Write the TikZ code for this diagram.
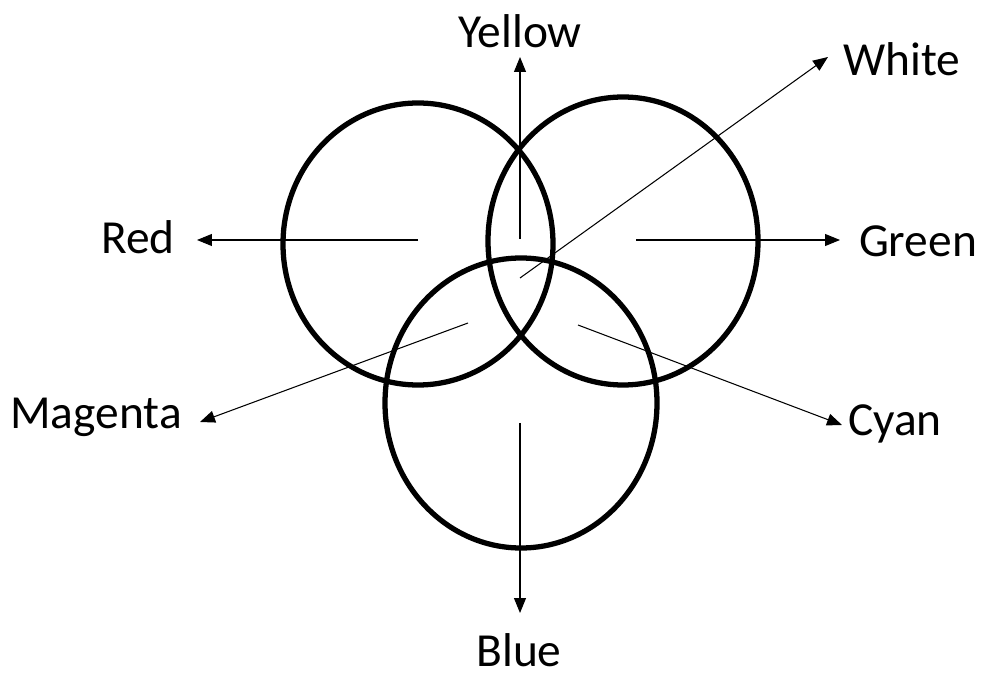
\documentclass[tikz,border=0pt]{standalone}
\usepackage{fontspec}
\setmainfont{Carlito}
\usetikzlibrary{arrows.meta, positioning}

\begin{document}
\begin{tikzpicture}[
    x=0.02cm, y=-0.02cm,
    ring/.style={draw=black, line width=3pt},
    arrow/.style={line width=0.6pt, -{Triangle[length=0.3cm, width=0.24cm]}},
    colourlabel/.style={font=\fontsize{27}{32}\selectfont, text=black, inner sep=0pt},
]
    \useasboundingbox (0,0) rectangle (984,675);

    % Three circles
    \draw [ring] (418,244) ellipse [x radius=135, y radius=141];
    \draw [ring] (623,241) ellipse [x radius=135, y radius=144];
    \draw [ring] (521,403) ellipse [x radius=136, y radius=145];

    % Start and end points of the arrows
    \coordinate (yellow_from) at (520,239);
    \coordinate (yellow_to) at (520,57);
    \coordinate (white_from) at (520,278);
    \coordinate (white_to) at (828,57);
    \coordinate (red_from) at (418,240);
    \coordinate (red_to) at (197,240);
    \coordinate (green_from) at (636,240);
    \coordinate (green_to) at (840,240);
    \coordinate (magenta_from) at (468,323);
    \coordinate (magenta_to) at (200,422);
    \coordinate (cyan_from) at (578,325);
    \coordinate (cyan_to) at (842,425);
    \coordinate (blue_from) at (520,423);
    \coordinate (blue_to) at (520,613);

    % Labels
    \node (yellow) [colourlabel] at (520,31) {Yellow};
    \node (white) [colourlabel] at (902,59) {White};
    \node (red) [colourlabel] at (138,237) {Red};
    \node (green) [colourlabel] at (918,241) {Green};
    \node (magenta) [colourlabel] at (96,417) {Magenta};
    \node (cyan) [colourlabel] at (895,424) {Cyan};
    \node (blue) [colourlabel] at (519,650) {Blue};

    \draw [arrow] (yellow_from) -- (yellow_to);
    \draw [arrow] (white_from) -- (white_to);
    \draw [arrow] (red_from) -- (red_to);
    \draw [arrow] (green_from) -- (green_to);
    \draw [arrow] (magenta_from) -- (magenta_to);
    \draw [arrow] (cyan_from) -- (cyan_to);
    \draw [arrow] (blue_from) -- (blue_to);

\end{tikzpicture}
\end{document}
